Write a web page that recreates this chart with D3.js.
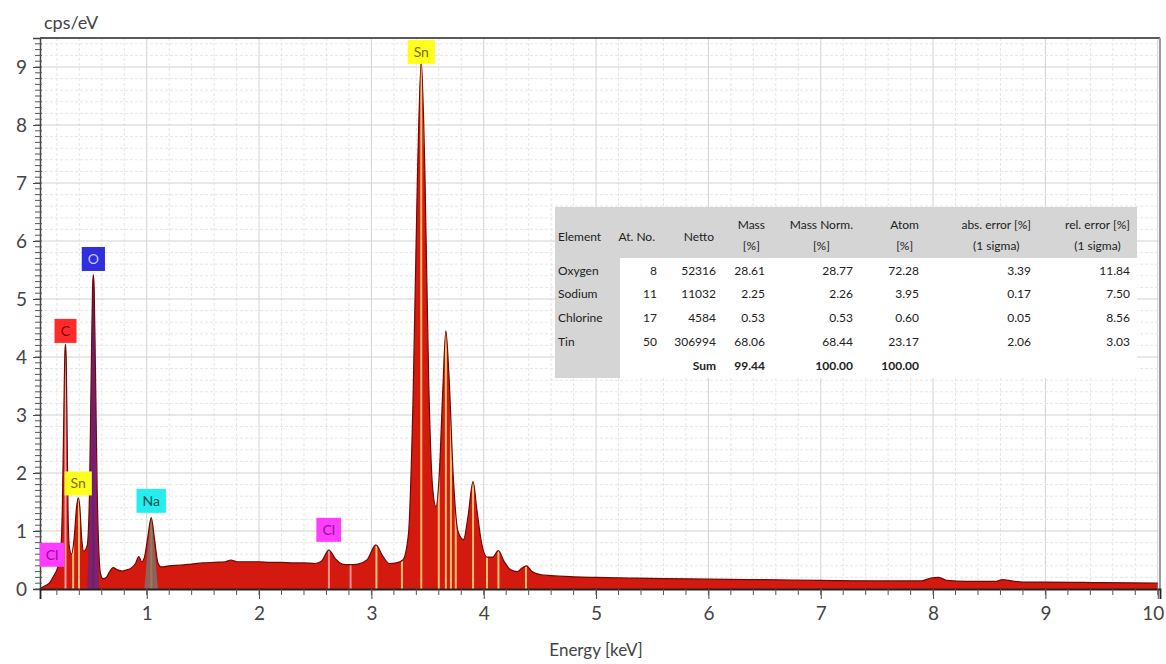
<!DOCTYPE html>
<html><head><meta charset="utf-8">
<script src="https://cdn.jsdelivr.net/npm/d3@7"></script>
<style>
html,body{margin:0;padding:0;background:#fff;}
svg{display:block;font-family:Lato,"Open Sans",sans-serif;}
</style></head><body>
<svg id="chart" width="1166" height="664"></svg>
<script>
// ---------- DATA ----------
const energy = [0.06,0.10,0.14,0.17,0.20,0.23,0.25,0.262,0.272,0.277,0.283,0.292,0.30,0.31,0.33,0.355,0.375,0.39,0.405,0.42,0.44,0.47,0.49,0.505,0.518,0.525,0.532,0.545,0.56,0.575,0.59,0.61,0.64,0.67,0.70,0.74,0.78,0.82,0.86,0.90,0.93,0.955,0.98,1.01,1.04,1.07,1.10,1.13,1.20,1.30,1.40,1.50,1.60,1.70,1.75,1.80,1.90,2.00,2.10,2.20,2.30,2.40,2.50,2.56,2.62,2.68,2.74,2.80,2.88,2.96,3.04,3.10,3.16,3.22,3.28,3.33,3.37,3.41,3.444,3.475,3.51,3.545,3.575,3.605,3.635,3.663,3.69,3.73,3.77,3.82,3.86,3.905,3.94,3.98,4.03,4.08,4.13,4.18,4.24,4.30,4.34,4.38,4.43,4.50,4.60,4.80,5.00,5.30,5.60,6.00,6.50,7.00,7.50,7.90,7.98,8.05,8.12,8.30,8.55,8.62,8.70,8.80,9.00,9.50,10.00];
const cps = [0.02,0.06,0.12,0.22,0.33,0.55,1.5,3.0,4.1,4.22,4.0,2.6,1.3,0.75,0.6,0.9,1.4,1.57,1.4,0.9,0.65,0.75,1.6,3.6,5.2,5.42,5.2,3.6,1.6,0.6,0.25,0.18,0.2,0.3,0.37,0.33,0.31,0.33,0.36,0.44,0.56,0.47,0.55,0.9,1.23,0.85,0.45,0.38,0.40,0.41,0.43,0.45,0.46,0.47,0.50,0.47,0.47,0.47,0.46,0.46,0.45,0.45,0.44,0.49,0.67,0.52,0.43,0.42,0.43,0.50,0.76,0.57,0.44,0.45,0.50,0.95,3.2,7.1,9.1,7.3,3.6,1.75,1.42,2.0,3.4,4.45,3.7,1.9,1.0,0.85,1.25,1.85,1.35,0.8,0.55,0.55,0.66,0.48,0.33,0.30,0.36,0.40,0.30,0.25,0.23,0.21,0.20,0.19,0.18,0.17,0.16,0.15,0.14,0.14,0.19,0.20,0.15,0.13,0.13,0.16,0.14,0.12,0.12,0.11,0.10];

// fitted element peaks (overlays)
const oxygenFitE = [0.47,0.49,0.505,0.518,0.525,0.532,0.545,0.56,0.58];
const oxygenFitC = [0,1.4,3.5,5.1,5.4,5.1,3.5,1.4,0];
const sodiumFitE = [0.98,1.01,1.04,1.07,1.10];
const sodiumFitC = [0,0.7,1.2,0.7,0];

// element line markers
const markerEnergy = [0.277,0.345,0.397,0.525,1.041,2.622,2.815,3.045,3.272,3.444,3.600,3.663,3.708,3.751,3.905,4.029,4.131,4.376];
const markerElement = ["C","Sn","Sn","O","Na","Cl","Cl","Sn","Sn","Sn","Sn","Sn","Sn","Sn","Sn","Sn","Sn","Sn"];

// peak labels
const labelElement = ["Cl","C","Sn","O","Na","Cl","Sn"];
const labelEnergy = [0.157,0.277,0.39,0.525,1.04,2.62,3.444];
const labelCps = [0.59,4.45,1.82,5.69,1.52,1.02,9.26];

const xTicks = [1,2,3,4,5,6,7,8,9,10];
const yTicks = [0,1,2,3,4,5,6,7,8,9];
const xTitle = "Energy [keV]";
const yTitle = "cps/eV";

// quantification table
const tableHeaders = [["Element"],["At. No."],["Netto"],["Mass","[%]"],["Mass Norm.","[%]"],["Atom","[%]"],["abs. error [%]","(1 sigma)"],["rel. error [%]","(1 sigma)"]];
const tableRows = [
  ["Oxygen","8","52316","28.61","28.77","72.28","3.39","11.84"],
  ["Sodium","11","11032","2.25","2.26","3.95","0.17","7.50"],
  ["Chlorine","17","4584","0.53","0.53","0.60","0.05","8.56"],
  ["Tin","50","306994","68.06","68.44","23.17","2.06","3.03"]
];
const sumRow = ["","","Sum","99.44","100.00","100.00","",""];

// ---------- STYLE ----------
const labelStyle = {
  C:{fill:"#ff2b2b",text:"#7a0000"},
  O:{fill:"#2f2fe0",text:"#c8c8ff"},
  Sn:{fill:"#ffff1e",text:"#7a6c00"},
  Na:{fill:"#26eeee",text:"#0a5050"},
  Cl:{fill:"#ff3cff",text:"#8a168a"}
};
const markerColor = {C:"#f4a0a0",Sn:"#f8c070",O:"#6a1e7a",Na:"#9a7a5a",Cl:"#f49090"};

// ---------- CHART ----------
const svg = d3.select("#chart");
const L = 40, R = 1160, T = 38, B = 589;
const x = d3.scaleLinear().domain([0.05,10.02]).range([L,R]);
const y = d3.scaleLinear().domain([0,9.5]).range([B,T]);

// grid
const grid = svg.append("g");
const isInt = d=>Math.abs(d-Math.round(d))<1e-6;
const gx = d3.range(2,101,2).map(v=>v/10);
const gy = d3.range(2,95,2).map(v=>v/10);
grid.selectAll("line.gx").data(gx).join("line").attr("class","gx")
  .attr("x1",d=>x(d)).attr("x2",d=>x(d)).attr("y1",T).attr("y2",B)
  .attr("stroke",d=>isInt(d)?"#d2d2d2":"#e6e6e6")
  .attr("stroke-dasharray",d=>isInt(d)?null:"3,2");
grid.selectAll("line.gy").data(gy).join("line").attr("class","gy")
  .attr("y1",d=>y(d)).attr("y2",d=>y(d)).attr("x1",L).attr("x2",R)
  .attr("stroke",d=>isInt(d)?"#d2d2d2":"#e6e6e6")
  .attr("stroke-dasharray",d=>isInt(d)?null:"3,2");

// spectrum
const spec = energy.map((e,i)=>[e,cps[i]]);
const area = d3.area().x(d=>x(d[0])).y0(B).y1(d=>y(d[1])).curve(d3.curveMonotoneX);
const line = d3.line().x(d=>x(d[0])).y(d=>y(d[1])).curve(d3.curveMonotoneX);
svg.append("clipPath").attr("id","specClip").append("path").attr("d",area(spec));
svg.append("path").attr("d",area(spec)).attr("fill","#d41a0f");

const fits = svg.append("g").attr("clip-path","url(#specClip)");
fits.append("path").attr("d",area(oxygenFitE.map((e,i)=>[e,oxygenFitC[i]]))).attr("fill","#3a2ab0").attr("opacity",0.55);
fits.append("path").attr("d",area(sodiumFitE.map((e,i)=>[e,sodiumFitC[i]]))).attr("fill","#26cccc").attr("opacity",0.4);
fits.selectAll("line").data(markerEnergy).join("line")
  .attr("x1",d=>x(d)).attr("x2",d=>x(d)).attr("y1",B).attr("y2",T)
  .attr("stroke",(d,i)=>markerColor[markerElement[i]]).attr("stroke-width",2);

svg.append("path").attr("d",line(spec)).attr("fill","none").attr("stroke","#6e0a06").attr("stroke-width",1.2);

// frame
svg.append("line").attr("x1",L).attr("x2",R).attr("y1",T).attr("y2",T).attr("stroke","#5a5a5a").attr("stroke-width",2);
svg.append("line").attr("x1",R).attr("x2",R).attr("y1",T).attr("y2",B).attr("stroke","#9a9a9a").attr("stroke-width",2);

// axes
const yMinor = d3.range(0,95).map(v=>v/10);
const yAxis = d3.axisLeft(y).tickValues(yTicks).tickFormat(d3.format("d")).tickSize(7).tickPadding(6);
const yg = svg.append("g").attr("transform",`translate(${L},0)`).call(yAxis);
yg.append("g").selectAll("line").data(yMinor).join("line")
  .attr("x1",-5).attr("x2",2).attr("y1",d=>y(d)).attr("y2",d=>y(d)).attr("stroke","#555");
yg.select(".domain").attr("stroke","#444").attr("stroke-width",1.5);
yg.selectAll(".tick line").attr("stroke","#444");
yg.selectAll(".tick text").attr("font-size",19).attr("fill","#444").attr("font-family","Lato");

const xMinor = d3.range(2,101,2).map(v=>v/10);
const xAxis = d3.axisBottom(x).tickValues(xTicks).tickFormat(d3.format("d")).tickSize(10).tickPadding(8);
const xg = svg.append("g").attr("transform",`translate(0,${B})`).call(xAxis);
xg.append("g").selectAll("line").data(xMinor).join("line")
  .attr("x1",d=>x(d)).attr("x2",d=>x(d)).attr("y1",0).attr("y2",6).attr("stroke","#555");
xg.select(".domain").attr("stroke","#222").attr("stroke-width",1.8);
xg.selectAll(".tick line").attr("stroke","#444");
xg.selectAll(".tick text").attr("font-size",19).attr("fill","#444").attr("font-family","Lato")
  .filter(d=>d===10).attr("text-anchor","end").attr("dx",6);

svg.append("text").attr("x",(x(0)+x(10))/2).attr("y",656).attr("text-anchor","middle")
  .attr("font-size",17).attr("fill","#444").text(xTitle);
svg.append("text").attr("x",44).attr("y",29).attr("font-size",18).attr("fill","#444").text(yTitle);

// peak labels
const lab = svg.append("g");
labelElement.forEach((el,i)=>{
  const g = lab.append("g").attr("transform",`translate(${x(labelEnergy[i])},${y(labelCps[i])})`);
  const r = g.append("rect").attr("fill",labelStyle[el].fill);
  const t = g.append("text").attr("text-anchor","middle").attr("dy","0.36em")
    .attr("font-size",14).attr("fill",labelStyle[el].text).text(el);
  const w = Math.max(22, t.node().getComputedTextLength()+12), h = 24;
  r.attr("x",-w/2).attr("y",-h/2).attr("width",w).attr("height",h);
});

// table
const tb = svg.append("g").attr("font-size",12).attr("fill","#222");
const TX = 555, TY = 207, TW = 582, TH = 171;
tb.append("rect").attr("x",TX).attr("y",TY).attr("width",TW).attr("height",TH).attr("fill","#fff");
tb.append("rect").attr("x",TX).attr("y",TY).attr("width",TW).attr("height",51).attr("fill","#d5d5d5");
tb.append("rect").attr("x",TX).attr("y",TY+51).attr("width",65).attr("height",TH-51).attr("fill","#d5d5d5");
const colRight = [null,657,716,765,853,919,1031,1130];
const elemLeft = 558;
tableHeaders.forEach((h,c)=>{
  if(h.length===1){
    tb.append("text").attr("x",c===0?elemLeft:colRight[c]-2).attr("y",241)
      .attr("text-anchor",c===0?"start":"end").text(h[0]);
  } else {
    const t1 = tb.append("text").attr("x",colRight[c]).attr("y",229).attr("text-anchor","end").text(h[0]);
    const w = t1.node().getComputedTextLength();
    tb.append("text").attr("x",colRight[c]-w/2).attr("y",250).attr("text-anchor","middle").text(h[1]);
  }
});
const rowY = [275,298,322,346];
tableRows.forEach((row,r)=>{
  row.forEach((v,c)=>{
    tb.append("text").attr("x",c===0?elemLeft:colRight[c]).attr("y",rowY[r])
      .attr("text-anchor",c===0?"start":"end").text(v);
  });
});
sumRow.forEach((v,c)=>{
  if(v) tb.append("text").attr("x",colRight[c]).attr("y",370).attr("text-anchor","end")
    .attr("font-weight","bold").text(v);
});
</script>
</body></html>
